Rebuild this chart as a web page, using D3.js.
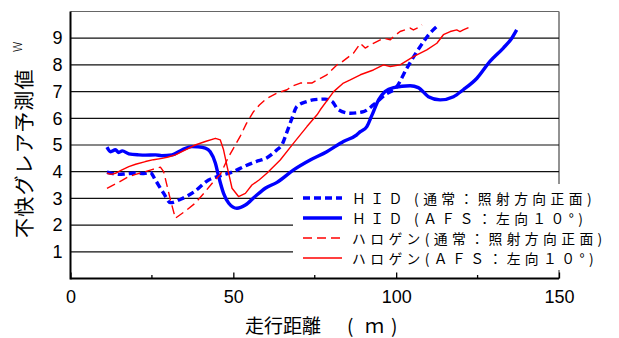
<!DOCTYPE html>
<html>
<head>
<meta charset="utf-8">
<script src="https://cdn.jsdelivr.net/npm/d3@7"></script>
<style>
  html, body { margin: 0; padding: 0; background: #fff; }
  svg { display: block; }
  .tick-label { font-family: "Liberation Sans", Arial, sans-serif; font-size: 18px; fill: #000; }
  .jp { font-family: "Noto Sans CJK JP", sans-serif; fill: #000; }
</style>
</head>
<body>
<svg id="chart" width="619" height="338"></svg>
<script>
// Driving distance (m) vs. predicted discomfort glare value W
const xTicksMajor = [0, 50, 100, 150];
const xTicksMinor = [25, 75, 125];
const yTicks = [1, 2, 3, 4, 5, 6, 7, 8, 9];

// HID, normal beam (aimed straight ahead)
const hidNormal = [
  [11.2, 3.98], [13, 3.93], [15, 3.9], [17, 3.92], [20, 3.95], [22.5, 3.93], [24.5, 3.97],
  [26, 3.7], [28.6, 3.19], [30.7, 2.84], [34, 2.98], [38, 3.25], [42.4, 3.69],
  [46, 3.85], [50, 4.0], [53.2, 4.19], [57, 4.38], [60, 4.5], [63.4, 4.82],
  [64.9, 5.0], [66.5, 5.5], [68, 6.0], [69.5, 6.44], [72.6, 6.63], [75, 6.7],
  [78.2, 6.72], [80.3, 6.63], [82.3, 6.32], [85.9, 6.19], [90, 6.25], [93, 6.5],
  [96.6, 6.88], [100.2, 7.19], [103.3, 7.88], [107.4, 8.69], [110.4, 9.19], [112.5, 9.44]
];

// HID, AFS swivelled 10 degrees left
const hidAfs = [
  [11.2, 4.92], [12.3, 4.75], [13.8, 4.82], [14.8, 4.72], [15.9, 4.78], [17.9, 4.67],
  [21, 4.63], [23, 4.62], [26.1, 4.63], [28, 4.6], [31.2, 4.63], [34.3, 4.82],
  [37.3, 4.94], [39, 4.93], [41.4, 4.88], [42.9, 4.75], [44.5, 4.32], [45.5, 3.82],
  [47, 3.19], [48.6, 2.82], [51.1, 2.63], [53.7, 2.75], [56.7, 3.07], [59.8, 3.38],
  [63.4, 3.6], [68.5, 4.07], [73.6, 4.44], [78.7, 4.75], [83.8, 5.13], [87.9, 5.38],
  [89, 5.5], [91, 5.69], [92.5, 6.1], [94.6, 6.69], [96.6, 7.0], [99.2, 7.15],
  [104.3, 7.22], [106.8, 7.15], [109.9, 6.81], [113.5, 6.69], [117.6, 6.81],
  [120.6, 7.07], [124.8, 7.5], [128.8, 8.13], [132.9, 8.63], [135.5, 9.0], [137, 9.31]
];

// Halogen, normal beam (aimed straight ahead)
const halogenNormal = [
  [11.2, 3.38], [14, 3.55], [17.9, 3.82], [20, 3.9], [23, 4.0], [25, 4.08],
  [27.6, 4.17], [28.6, 4.0], [30.7, 2.94], [32.2, 2.26], [35, 2.5], [38.3, 2.82],
  [41, 3.2], [43.5, 3.57], [46, 3.9], [48.6, 4.57], [52.1, 5.32], [54, 5.8],
  [56.2, 6.25], [58, 6.5], [60.3, 6.75], [63.4, 6.94], [66.5, 7.07], [68, 7.2],
  [70.6, 7.32], [74.1, 7.32], [76, 7.45], [78.7, 7.63], [81.8, 8.0], [82.8, 8.06],
  [86.9, 8.44], [89, 8.81], [90.5, 8.63], [93, 8.81], [96.1, 9.0], [98.2, 8.94],
  [99.2, 9.06], [101.2, 9.25], [104.3, 9.38], [105.3, 9.31], [107.4, 9.44], [107.9, 9.5]
];

// Halogen, AFS swivelled 10 degrees left
const halogenAfs = [
  [11.2, 3.94], [12.5, 3.9], [13.8, 3.94], [15.5, 4.05], [17.9, 4.19], [20, 4.28],
  [23, 4.38], [25.5, 4.45], [28.1, 4.5], [30, 4.55], [32.2, 4.63], [35.3, 4.82],
  [38.3, 5.0], [41.4, 5.13], [44.5, 5.25], [46, 5.19], [47, 4.82], [48.1, 4.19],
  [49.6, 3.38], [51.6, 3.07], [53.7, 3.19], [55.7, 3.5], [58, 3.7], [60.3, 3.94],
  [62, 4.15], [64.4, 4.44], [68.5, 5.07], [72.6, 5.69], [75.7, 6.13], [76.7, 6.32],
  [80.8, 7.0], [83.8, 7.32], [85.9, 7.44], [89, 7.63], [93, 7.81], [96.1, 8.0],
  [98.2, 7.94], [101.2, 8.0], [105.3, 8.31], [109.4, 8.56], [112.5, 8.81],
  [114.5, 9.13], [116.6, 9.25], [118.6, 9.31], [119.6, 9.25], [120.6, 9.31], [122.2, 9.4]
];

const seriesNames = [
  "ＨＩＤ (通常：照射方向正面)",
  "ＨＩＤ (ＡＦＳ：左向１０°)",
  "ハロゲン(通常：照射方向正面)",
  "ハロゲン(ＡＦＳ：左向１０°)"
];
const xTitle = "走行距離";
const yTitle = "不快グレア予測値";

const series = [
  { name: seriesNames[0], data: hidNormal, color: "#0000ff", width: 3.4, dash: "7,4" },
  { name: seriesNames[1], data: hidAfs, color: "#0000ff", width: 3.4, dash: null },
  { name: seriesNames[2], data: halogenNormal, color: "#ff0000", width: 1.4, dash: "9,5" },
  { name: seriesNames[3], data: halogenAfs, color: "#ff0000", width: 1.4, dash: null }
];

const svg = d3.select("#chart");
const x = d3.scaleLinear().domain([0, 150]).range([70.5, 559]);
const y = d3.scaleLinear().domain([0, 10]).range([278.5, 11.5]);

// Frame: top and right borders
svg.append("line").attr("x1", x(0)).attr("x2", x(150)).attr("y1", y(10)).attr("y2", y(10))
  .attr("stroke", "#666").attr("stroke-width", 1.2);
svg.append("line").attr("x1", x(150)).attr("x2", x(150)).attr("y1", y(10)).attr("y2", y(0))
  .attr("stroke", "#777").attr("stroke-width", 1.6);

// Horizontal gridlines
svg.append("g").selectAll("line").data(yTicks).join("line")
  .attr("x1", x(0)).attr("x2", x(150))
  .attr("y1", d => y(d)).attr("y2", d => y(d))
  .attr("stroke", "#111").attr("stroke-width", 1.2);

// Series lines
const line = d3.line().x(d => x(d[0])).y(d => y(d[1]));
series.forEach(s => {
  svg.append("path").datum(s.data)
    .attr("d", line.curve(s.color === "#0000ff" ? d3.curveMonotoneX : d3.curveLinear))
    .attr("fill", "none")
    .attr("stroke", s.color)
    .attr("stroke-width", s.width)
    .attr("stroke-dasharray", s.dash)
    .attr("stroke-linejoin", "round");
});

// Axes
const xAxis = d3.axisBottom(x).tickValues(xTicksMajor).tickSize(-6).tickFormat(d3.format("d"));
const gx = svg.append("g").attr("transform", `translate(0,${y(0)})`).call(xAxis);
gx.select(".domain").attr("stroke", "#000").attr("stroke-width", 2).attr("d", `M${x(0)},0H${x(150)}`);
gx.selectAll(".tick line").attr("stroke", "#000").attr("stroke-width", 1.3);
gx.selectAll(".tick text").attr("class", "tick-label").attr("y", 12).attr("dy", "0.71em")
  .style("font-size", "18px").style("font-family", "'Liberation Sans', Arial, sans-serif");
gx.selectAll(".minor").data(xTicksMinor).join("line").attr("class", "minor")
  .attr("x1", d => x(d)).attr("x2", d => x(d)).attr("y1", 0).attr("y2", -3.5)
  .attr("stroke", "#000").attr("stroke-width", 1.3);

const yAxis = d3.axisLeft(y).tickValues(yTicks).tickSize(0).tickPadding(8);
const gy = svg.append("g").attr("transform", `translate(${x(0)},0)`).call(yAxis);
gy.select(".domain").attr("stroke", "#000").attr("stroke-width", 2).attr("d", `M0,${y(10)}V${y(0) + 1}`);
gy.selectAll(".tick text").attr("class", "tick-label")
  .style("font-size", "18px").style("font-family", "'Liberation Sans', Arial, sans-serif");

// Axis titles
const xt = svg.append("text").attr("class", "jp").attr("y", 333).style("font-size", "19px");
xt.append("tspan").attr("x", 245).text(xTitle);
xt.append("tspan").attr("x", 347).text("(");
xt.append("tspan").attr("x", 365).text("ｍ");
xt.append("tspan").attr("x", 391).text(")");

svg.append("text").attr("class", "jp")
  .attr("transform", `translate(32,238) rotate(-90)`)
  .style("font-size", "20px").style("letter-spacing", "1.2px")
  .text(yTitle);
svg.append("text").attr("class", "jp")
  .attr("transform", `translate(22,52) rotate(-90)`)
  .style("font-size", "12px").style("font-weight", "300")
  .text("W");

// Legend
const legend = svg.append("g");
legend.append("rect").attr("x", 293).attr("y", 184).attr("width", 326).attr("height", 86).attr("fill", "#fff");
series.forEach((s, i) => {
  const ly = 198 + i * 20;
  legend.append("line").attr("x1", 303).attr("x2", 342).attr("y1", ly).attr("y2", ly)
    .attr("stroke", s.color).attr("stroke-width", s.width).attr("stroke-dasharray", s.dash);
  legend.append("text").attr("class", "jp").attr("x", 352).attr("y", ly)
    .attr("dominant-baseline", "central")
    .style("font-size", "13.8px").style("letter-spacing", "4.4px")
    .text(s.name);
});
</script>
</body>
</html>
